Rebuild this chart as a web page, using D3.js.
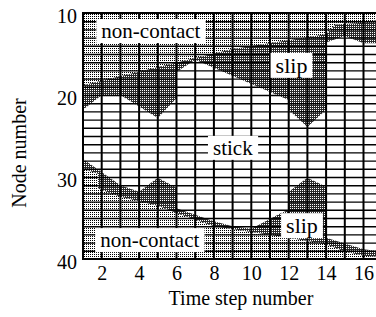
<!DOCTYPE html>
<html>
<head>
<script src="https://d3js.org/d3.v7.min.js"></script>
<style>
  body { margin: 0; background: #fff; }
</style>
</head>
<body>
<svg width="376" height="317"></svg>
<script>
const serif = '"Liberation Serif", "Times New Roman", Times, serif';

// tick labels
const timeTicks = [2, 4, 6, 8, 10, 12, 14, 16];
const nodeTicks = [10, 20, 30, 40];
const gridSteps = d3.range(2, 19);
const gridNodes = d3.range(11, 40);

// region boundaries as [time step, node]
const upperNonContact = [[1,18.8],[9,14.4],[14,12.6],[14.5,11.4],[16,11.2],[18,10.3]];
const upperStick = [[1,21.8],[2,20.0],[3,20.0],[5,22.8],[6,20.4],[6,17.2],[7,15.7],[12,20.6],[12,21.8],[13,23.9],[14,21.8],[14,13.6],[15,12.8],[16,13.7],[18,13.7]];
const lowerStick = [[1,27.8],[3,31.0],[4,31.8],[5,30.1],[6,31.3],[6,33.8],[8,35.4],[9,36.0],[10,36.3],[11.6,34.4],[12,34.0],[12,31.8],[13,30.1],[14,31.2],[14,37.4],[16,38.8],[18,39.4]];
const lowerNonContact = [[1,29.0],[1.8,29.6],[1.8,31.4],[3,32.4],[5,33.5],[6,34.4],[8,36.0],[10,36.7],[12,37.4],[14,38.2],[15,39.1],[16,39.6],[18,39.9]];

// labels: text, time step, node (baseline)
const regionLabels = [
  {text: 'non-contact', t: 1.98, n: 13.05, size: 21},
  {text: 'slip', t: 11.3, n: 17.3, size: 22},
  {text: 'stick', t: 7.95, n: 27.3, size: 21},
  {text: 'slip', t: 11.86, n: 36.85, size: 22},
  {text: 'non-contact', t: 1.92, n: 38.55, size: 21}
];

const svg = d3.select('svg');
const x = d3.scaleLinear().domain([1, 18]).range([83, 83 + 17 * 18.7]);
const y = d3.scaleLinear().domain([10, 40]).range([13, 259]);

const defs = svg.append('defs');
function stipple(id, bg, fg) {
  const p = defs.append('pattern').attr('id', id)
    .attr('patternUnits', 'userSpaceOnUse').attr('width', 2).attr('height', 2);
  p.append('rect').attr('width', 2).attr('height', 2).attr('fill', bg);
  p.append('rect').attr('width', 1).attr('height', 1).attr('fill', fg);
}
stipple('light', '#fff', '#000');
stipple('dark', '#2a2a2a', '#fff');

const line = d3.line().x(d => x(d[0])).y(d => y(d[1]));
function band(top, bottom) {
  return line(top.concat(bottom.slice().reverse())) + 'Z';
}

// non-contact background
svg.append('rect')
  .attr('x', x(1)).attr('y', y(10))
  .attr('width', x(18) - x(1)).attr('height', y(40) - y(10))
  .attr('fill', 'url(#light)');

// slip (contact) area
svg.append('path').attr('d', band(upperNonContact, lowerNonContact))
  .attr('fill', 'url(#dark)');

// stick area
svg.append('path').attr('d', band(upperStick, lowerStick))
  .attr('fill', '#fff');

// grid
const grid = svg.append('g').attr('stroke', '#000');
grid.selectAll('.v').data(gridSteps).join('line')
  .attr('x1', d => x(d)).attr('x2', d => x(d))
  .attr('y1', y(10)).attr('y2', y(40))
  .attr('stroke-width', 2);
grid.selectAll('.h').data(gridNodes).join('line')
  .attr('x1', x(1)).attr('x2', x(18))
  .attr('y1', d => y(d) + 0.5).attr('y2', d => y(d) + 0.5)
  .attr('stroke-width', 1.4);

// frame
svg.append('path')
  .attr('d', `M${x(18)},${y(10)}H${x(1)}V${y(40)}H${x(18)}`)
  .attr('fill', 'none').attr('stroke', '#000').attr('stroke-width', 2);

// region labels
const lab = svg.append('g').selectAll('g').data(regionLabels).join('g')
  .attr('transform', d => `translate(${x(d.t)},${y(d.n)})`);
lab.append('text')
  .attr('font-family', serif)
  .attr('font-size', d => d.size)
  .text(d => d.text);
lab.each(function () {
  const g = d3.select(this);
  const bb = g.select('text').node().getBBox();
  g.insert('rect', 'text')
    .attr('x', bb.x - 5).attr('y', bb.y)
    .attr('width', bb.width + 10).attr('height', bb.height)
    .attr('fill', '#fff');
});

// axes
const xAxis = svg.append('g')
  .attr('transform', `translate(0,${y(40)})`)
  .call(d3.axisBottom(x).tickValues(timeTicks).tickSize(0).tickPadding(7));
const yAxis = svg.append('g')
  .attr('transform', `translate(${x(1)},0)`)
  .call(d3.axisLeft(y).tickValues(nodeTicks).tickSize(0).tickPadding(6));
[xAxis, yAxis].forEach(a => {
  a.select('.domain').remove();
  a.attr('font-family', serif).attr('font-size', 20);
  a.selectAll('text').attr('fill', '#000');
});
yAxis.selectAll('text').attr('dy', '0.47em');

svg.append('text')
  .attr('x', 241).attr('y', 305)
  .attr('text-anchor', 'middle')
  .attr('font-family', serif).attr('font-size', 20)
  .text('Time step number');

svg.append('text')
  .attr('transform', 'translate(26,153) rotate(-90)')
  .attr('text-anchor', 'middle')
  .attr('font-family', serif).attr('font-size', 20)
  .text('Node number');
</script>
</body>
</html>
